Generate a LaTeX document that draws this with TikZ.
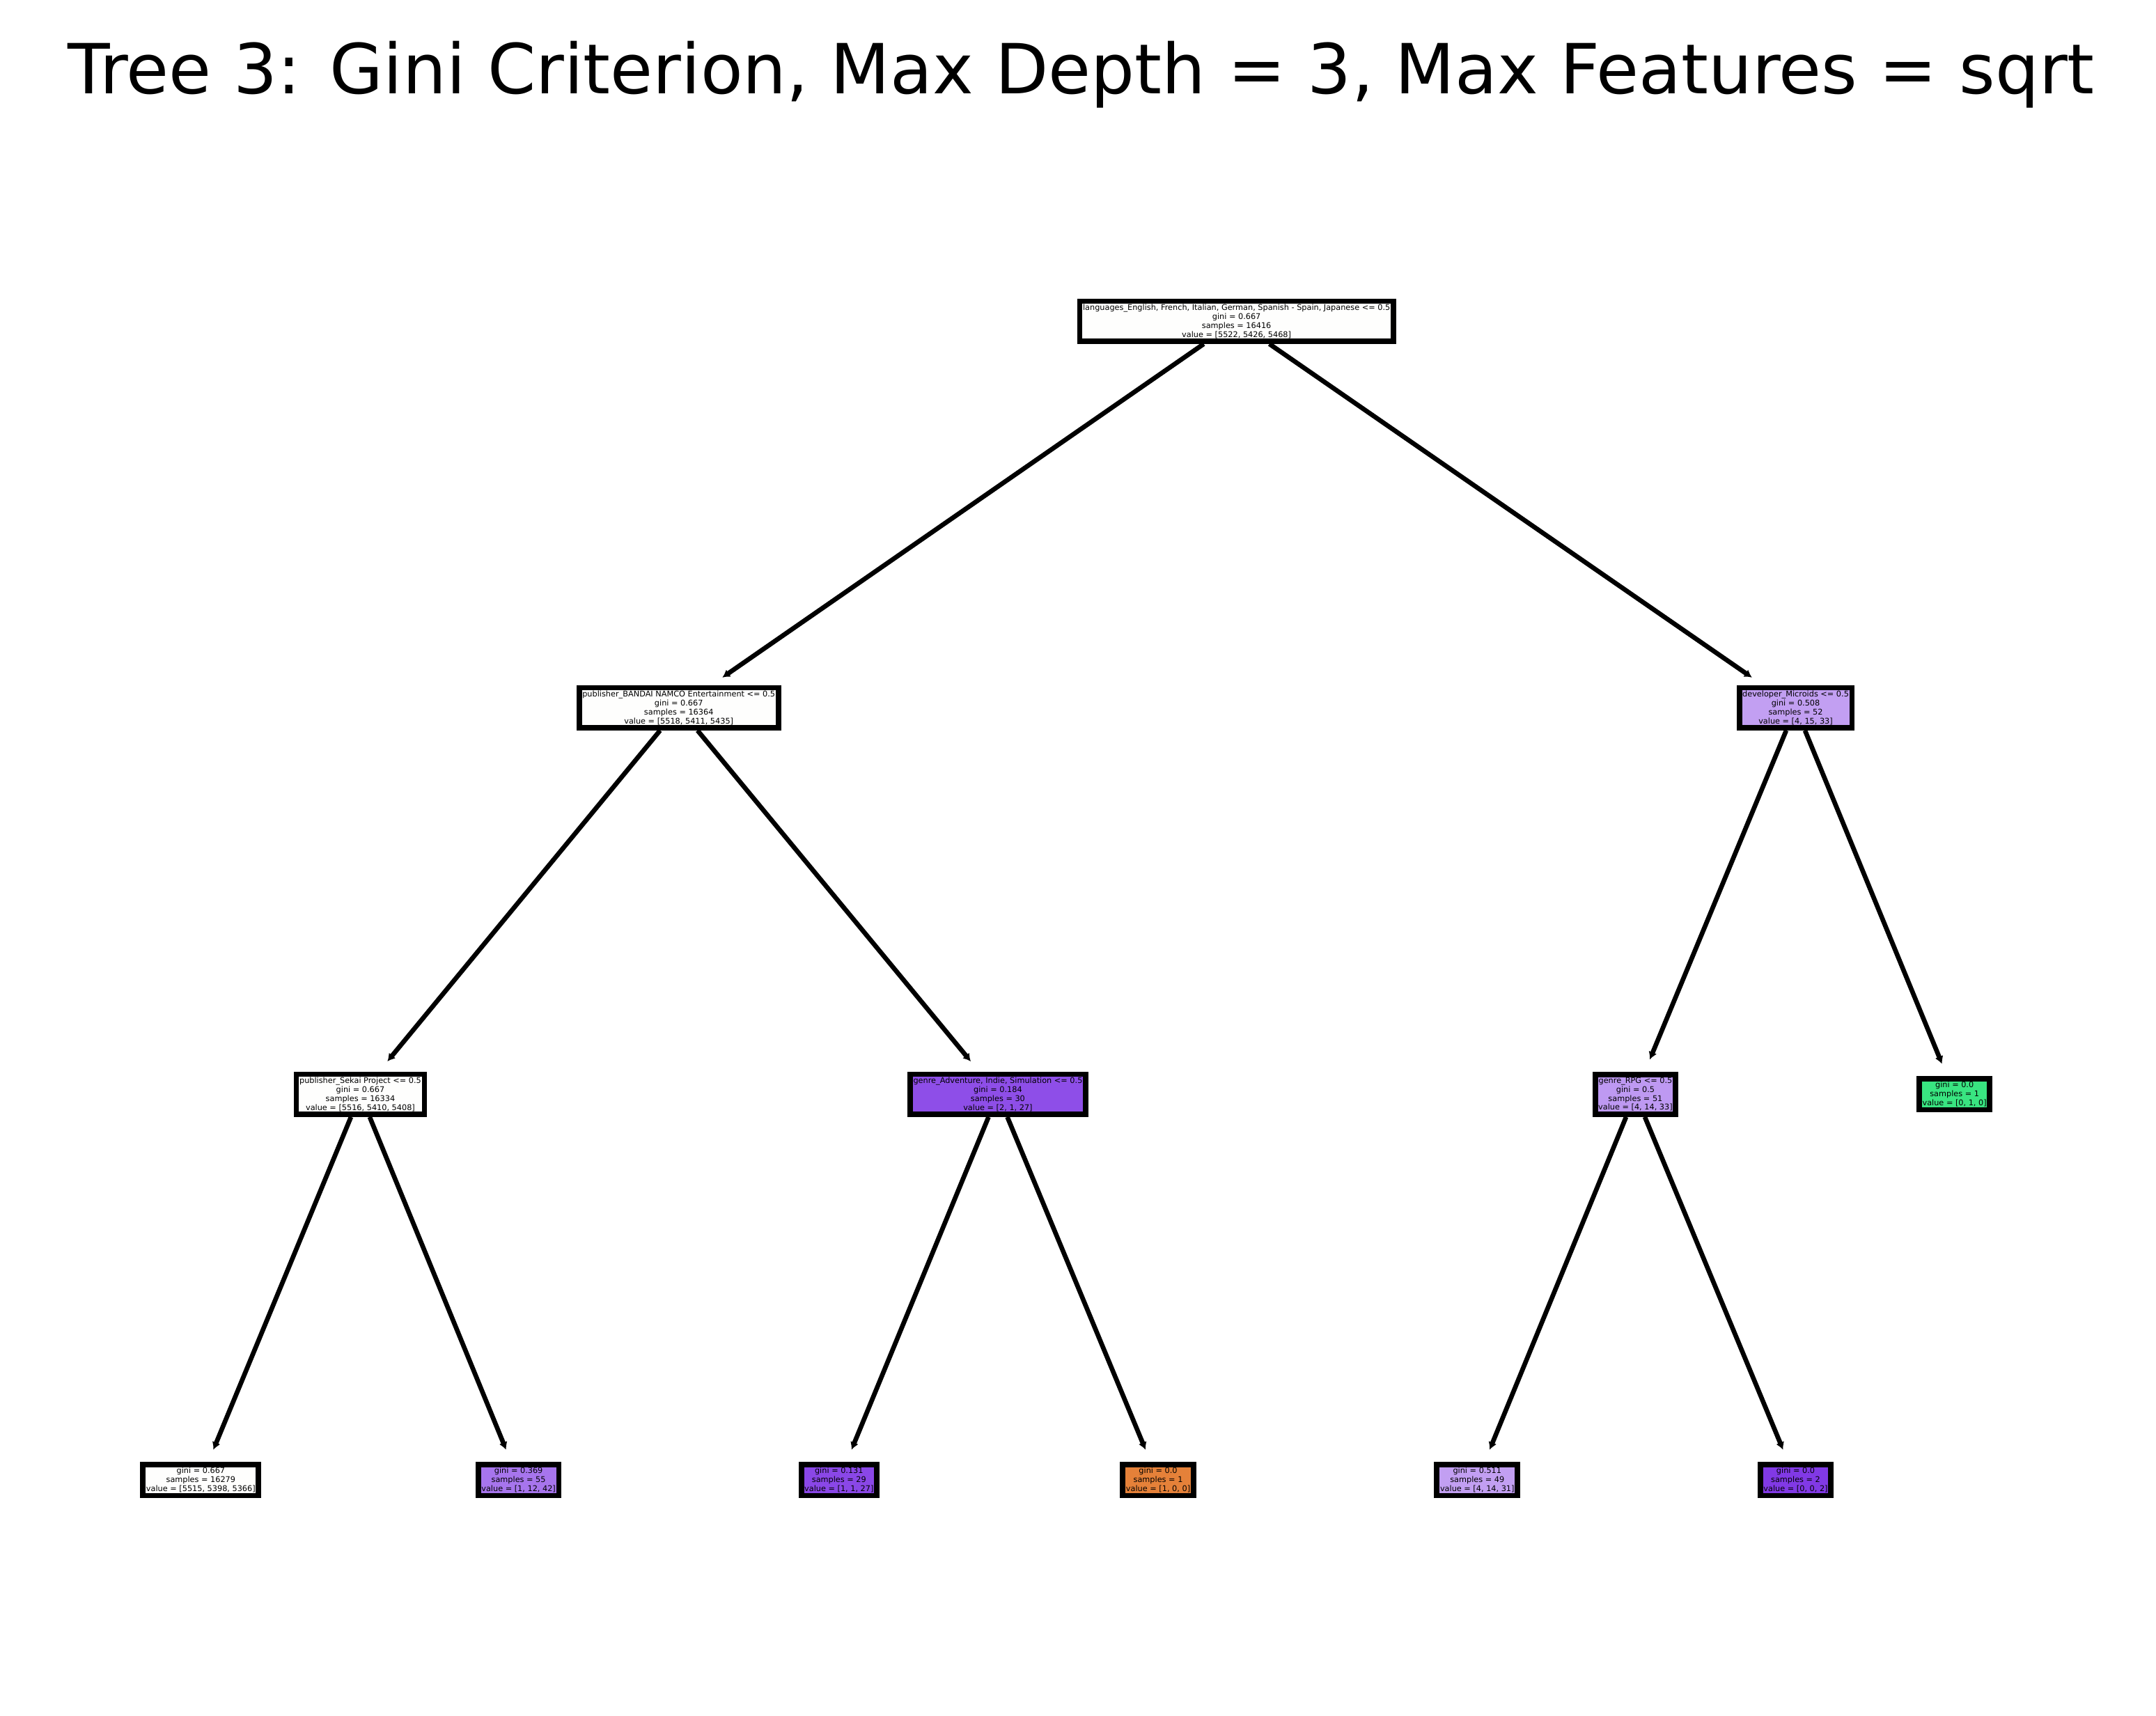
\documentclass[tikz,border=0pt]{standalone}
\usepackage{fontspec}
\setmainfont{DejaVu Sans}
\usetikzlibrary{arrows.meta}
\definecolor{nearwhite}{RGB}{254,254,253}
\definecolor{lightpurple}{RGB}{194,159,242}
\definecolor{rpgpurple}{RGB}{190,153,242}
\definecolor{midpurple}{RGB}{167,117,237}
\definecolor{deeppurple}{RGB}{142,78,232}
\definecolor{deeperpurple}{RGB}{138,71,231}
\definecolor{fullpurple}{RGB}{129,57,229}
\definecolor{fullorange}{RGB}{229,129,57}
\definecolor{fullgreen}{RGB}{57,229,129}
\newcommand{\treefont}{\fontsize{2.72}{3.1}\selectfont}
\tikzstyle{split} = [rectangle, draw=black, line width=1.9bp, inner xsep=1.1bp, inner ysep=1.05bp, align=center, font=\treefont]
\tikzstyle{leaf} = [split]
\tikzstyle{arrow} = [line width=1.6bp, -{Latex[length=2.6bp,width=3bp]}, shorten >=4.5bp]

\begin{document}
\begin{tikzpicture}[x=0.4741bp, y=-0.4741bp]
  \useasboundingbox (0,0) rectangle (1567.5,1247.3);
  \node (title) [anchor=base] at (786,68) {\fontsize{23.9}{28}\selectfont Tree 3: Gini Criterion, Max Depth = 3, Max Features = sqrt};
  % depth 0
  \node (root) [split, fill=nearwhite] at (899,233.5) {languages\_English, French, Italian, German, Spanish - Spain, Japanese <= 0.5\\gini = 0.667\\samples = 16416\\value = [5522, 5426, 5468]};
  % depth 1
  \node (bandai) [split, fill=nearwhite] at (493.5,514.5) {publisher\_BANDAI NAMCO Entertainment <= 0.5\\gini = 0.667\\samples = 16364\\value = [5518, 5411, 5435]};
  \node (microids) [split, fill=lightpurple] at (1305.5,514.5) {developer\_Microids <= 0.5\\gini = 0.508\\samples = 52\\value = [4, 15, 33]};
  % depth 2
  \node (sekai) [split, fill=nearwhite] at (262,795.5) {publisher\_Sekai Project <= 0.5\\gini = 0.667\\samples = 16334\\value = [5516, 5410, 5408]};
  \node (adventure) [split, fill=deeppurple] at (725.5,795.5) {genre\_Adventure, Indie, Simulation <= 0.5\\gini = 0.184\\samples = 30\\value = [2, 1, 27]};
  \node (rpg) [split, fill=rpgpurple] at (1189,795.5) {genre\_RPG <= 0.5\\gini = 0.5\\samples = 51\\value = [4, 14, 33]};
  \node (leafG) [leaf, fill=fullgreen] at (1421,795.5) {gini = 0.0\\samples = 1\\value = [0, 1, 0]};
  % depth 3
  \node (leafA) [leaf, fill=nearwhite] at (146,1076) {gini = 0.667\\samples = 16279\\value = [5515, 5398, 5366]};
  \node (leafB) [leaf, fill=midpurple] at (377,1076) {gini = 0.369\\samples = 55\\value = [1, 12, 42]};
  \node (leafC) [leaf, fill=deeperpurple] at (610,1076) {gini = 0.131\\samples = 29\\value = [1, 1, 27]};
  \node (leafD) [leaf, fill=fullorange] at (842,1076) {gini = 0.0\\samples = 1\\value = [1, 0, 0]};
  \node (leafE) [leaf, fill=lightpurple] at (1074,1076) {gini = 0.511\\samples = 49\\value = [4, 14, 31]};
  \node (leafF) [leaf, fill=fullpurple] at (1305.5,1076) {gini = 0.0\\samples = 2\\value = [0, 0, 2]};
  % edges
  \draw [arrow] (root) -- (bandai);
  \draw [arrow] (root) -- (microids);
  \draw [arrow] (bandai) -- (sekai);
  \draw [arrow] (bandai) -- (adventure);
  \draw [arrow] (microids) -- (rpg);
  \draw [arrow] (microids) -- (leafG);
  \draw [arrow] (sekai) -- (leafA);
  \draw [arrow] (sekai) -- (leafB);
  \draw [arrow] (adventure) -- (leafC);
  \draw [arrow] (adventure) -- (leafD);
  \draw [arrow] (rpg) -- (leafE);
  \draw [arrow] (rpg) -- (leafF);
\end{tikzpicture}
\end{document}
